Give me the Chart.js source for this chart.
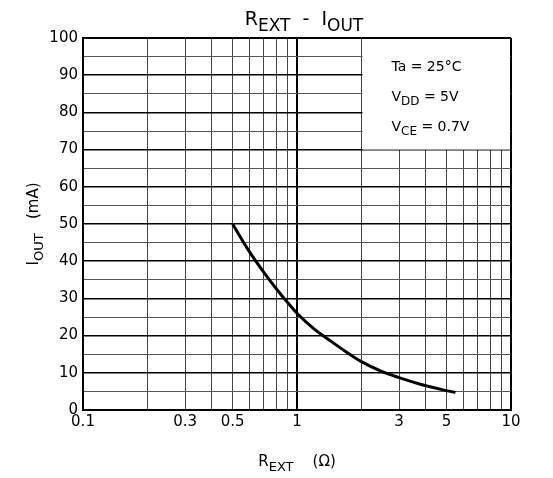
<!DOCTYPE html>
<html>
<head>
<meta charset="utf-8">
<script src="https://cdn.jsdelivr.net/npm/chart.js@4.4.1/dist/chart.umd.min.js"></script>
<style>
  html, body { margin: 0; padding: 0; background: #fff; }
  #wrap { width: 553px; height: 478px; position: relative; }
</style>
</head>
<body>
<div id="wrap"><canvas id="chart"></canvas></div>
<script>
// R_EXT (ohm) vs I_OUT (mA)
const rext = [0.5, 0.6, 0.7, 0.8, 0.9, 1, 1.2, 1.4, 1.7, 2, 2.5, 3, 4, 5, 5.5];
const iout = [50, 42.5, 37, 32.6, 29, 26, 21.8, 19, 15.6, 13, 10.3, 8.7, 6.5, 5.2, 4.7];

// tick positions
const xTicks = [0.1, 0.2, 0.3, 0.4, 0.5, 0.6, 0.7, 0.8, 0.9, 1, 2, 3, 4, 5, 6, 7, 8, 9, 10];
const xLabels = [0.1, 0.3, 0.5, 1, 3, 5, 10];
const yTicks = [];
for (let v = 0; v <= 100; v += 5) yTicks.push(v);

const notes = [
  [['Ta = 25°C', false]],
  [['V', false], ['DD', true], [' = 5V', false]],
  [['V', false], ['CE', true], [' = 0.7V', false]]
];

const FONT = '"DejaVu Sans", sans-serif';

// draw text made of normal and subscript parts
function drawParts(ctx, parts, x, y, size, align) {
  const subSize = Math.round(size * 0.88);
  let total = 0;
  parts.forEach(([t, sub]) => {
    ctx.font = (sub ? subSize : size) + 'px ' + FONT;
    total += ctx.measureText(t).width;
  });
  let cx = align === 'center' ? x - total / 2 : x;
  ctx.textAlign = 'left';
  ctx.textBaseline = 'alphabetic';
  parts.forEach(([t, sub]) => {
    ctx.font = (sub ? subSize : size) + 'px ' + FONT;
    ctx.fillText(t, cx, sub ? y + size * 0.3 : y);
    cx += ctx.measureText(t).width;
  });
}

const decor = {
  id: 'decor',
  beforeDatasetsDraw(chart) {
    const { ctx, scales: { x, y } } = chart;
    // inset box with conditions
    const x0 = x.getPixelForValue(2), x1 = x.getPixelForValue(10);
    const y0 = y.getPixelForValue(100), y1 = y.getPixelForValue(70);
    ctx.save();
    ctx.fillStyle = '#fff';
    ctx.fillRect(x0 + 1, y0 + 1, x1 - x0 - 2, y1 - y0 - 1);
    ctx.fillStyle = '#000';
    notes.forEach((line, i) => drawParts(ctx, line, x0 + 30, y0 + 33 + i * 30, 14, 'left'));
    ctx.restore();
  },
  afterDraw(chart) {
    const { ctx, chartArea } = chart;
    ctx.save();
    ctx.fillStyle = '#000';
    const cx = (chartArea.left + chartArea.right) / 2;
    drawParts(ctx, [['R', false], ['EXT', true], ['  -  ', false], ['I', false], ['OUT', true]], cx + 7, 25, 19, 'center');
    drawParts(ctx, [['R', false], ['EXT', true], ['    (Ω)', false]], cx, 466, 15, 'center');
    ctx.translate(38, (chartArea.top + chartArea.bottom) / 2);
    ctx.rotate(-Math.PI / 2);
    drawParts(ctx, [['I', false], ['OUT', true], ['   (mA)', false]], 0, 0, 15, 'center');
    ctx.restore();
  }
};

new Chart(document.getElementById('chart'), {
  type: 'line',
  data: {
    labels: rext,
    datasets: [{
      data: rext.map((r, i) => ({ x: r, y: iout[i] })),
      borderColor: '#000',
      borderWidth: 3,
      pointRadius: 0,
      fill: false,
      cubicInterpolationMode: 'monotone'
    }]
  },
  options: {
    responsive: true,
    maintainAspectRatio: false,
    animation: false,
    layout: { padding: { left: 0, top: 38, right: 42, bottom: 0 } },
    plugins: { legend: { display: false }, title: { display: false }, tooltip: { enabled: false } },
    scales: {
      x: {
        type: 'logarithmic',
        min: 0.1,
        max: 10,
        afterBuildTicks: s => { s.ticks = xTicks.map(v => ({ value: v })); },
        afterFit: s => { s.height = 68; },
        border: { color: '#000', width: 2 },
        grid: {
          drawTicks: false,
          color: c => (c.tick && (c.tick.value === 1 || c.tick.value === 10)) ? '#000' : '#444',
          lineWidth: c => (c.tick && (c.tick.value === 1 || c.tick.value === 10)) ? 2 : 1
        },
        ticks: {
          autoSkip: false,
          maxRotation: 0,
          padding: 3,
          color: '#000',
          font: { family: FONT, size: 15 },
          callback: v => xLabels.includes(v) ? String(v) : ''
        }
      },
      y: {
        min: 0,
        max: 100,
        afterBuildTicks: s => { s.ticks = yTicks.map(v => ({ value: v })); },
        afterFit: s => { s.width = 83; },
        border: { color: '#000', width: 2 },
        grid: {
          drawTicks: false,
          color: c => (c.tick && c.tick.value % 10 === 0) ? '#000' : '#555',
          lineWidth: c => (c.tick && c.tick.value === 100) ? 2 : (c.tick && c.tick.value % 10 === 0 ? 1.5 : 1)
        },
        ticks: {
          autoSkip: false,
          padding: 5,
          color: '#000',
          font: { family: FONT, size: 15 },
          callback: v => v % 10 === 0 ? String(v) : ''
        }
      }
    }
  },
  plugins: [decor]
});
</script>
</body>
</html>
